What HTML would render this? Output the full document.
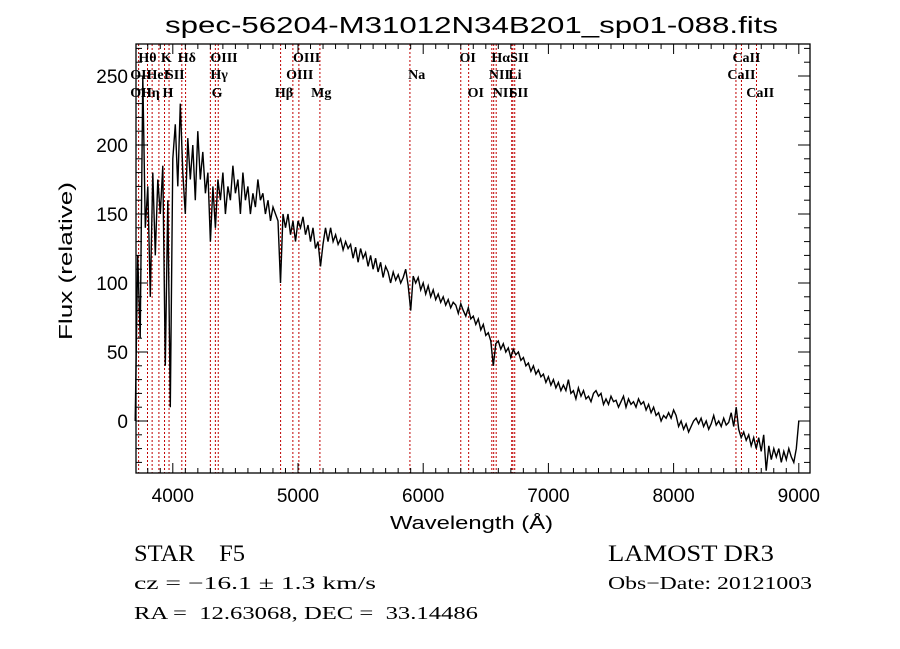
<!DOCTYPE html>
<html><head><meta charset="utf-8"><style>
html,body{margin:0;padding:0;background:#fff;}
svg{display:block;font-family:"Liberation Sans",sans-serif;}
</style></head><body>
<svg id="chart" width="900" height="649" viewBox="0 0 900 649" xmlns="http://www.w3.org/2000/svg">
<rect width="900" height="649" fill="#fff"/>
<text x="165" y="33" font-size="23" textLength="613" lengthAdjust="spacingAndGlyphs">spec-56204-M31012N34B201_sp01-088.fits</text>
<g id="lines"></g>
<g id="spec"></g>
<g id="axes"></g>
<g id="labels" font-family="Liberation Serif,serif" font-size="14" font-weight="bold"></g>
<text x="390" y="529" font-size="18" textLength="163" lengthAdjust="spacingAndGlyphs">Wavelength (Å)</text>
<text transform="translate(72,340) rotate(-90)" font-size="18" textLength="158" lengthAdjust="spacingAndGlyphs">Flux (relative)</text>
<text x="134" y="561" font-size="23" font-family="Liberation Serif,serif" xml:space="preserve" textLength="111" lengthAdjust="spacingAndGlyphs">STAR    F5</text>
<text x="608" y="561" font-size="23" font-family="Liberation Serif,serif" textLength="166" lengthAdjust="spacingAndGlyphs">LAMOST DR3</text>
<text x="134" y="589" font-size="18" font-family="Liberation Serif,serif" textLength="242" lengthAdjust="spacingAndGlyphs">cz = −16.1 ± 1.3 km/s</text>
<text x="608" y="589" font-size="18" font-family="Liberation Serif,serif" textLength="204" lengthAdjust="spacingAndGlyphs">Obs−Date: 20121003</text>
<text x="134" y="619" font-size="18" font-family="Liberation Serif,serif" xml:space="preserve" textLength="344" lengthAdjust="spacingAndGlyphs">RA =  12.63068, DEC =  33.14486</text>
</svg>
<script>
const wlStart = 3700;
const wlStep = 20;
const flux = [0,120,60,250,140,170,90,180,120,175,150,185,40,160,10,190,215,170,230,180,
150,205,175,200,160,210,175,195,165,180,130,170,140,175,160,180,150,170,160,185,
165,175,150,180,160,170,150,165,155,175,160,165,150,160,145,155,150,145,100,150,
140,150,135,145,130,145,140,148,135,142,130,140,125,130,112,128,140,130,140,130,
135,128,132,124,130,125,128,118,126,115,125,118,122,112,120,110,118,108,115,104,
112,108,100,108,102,106,100,104,110,98,80,105,100,104,95,100,92,98,90,95,
88,92,86,90,84,88,82,86,84,78,85,80,76,82,74,76,70,74,66,70,
62,64,58,40,56,58,52,56,50,53,46,52,48,50,44,46,40,42,36,40,
34,37,32,34,28,32,26,30,24,28,22,26,22,30,20,22,16,24,18,22,
16,18,14,20,22,18,20,12,16,12,18,14,15,10,14,18,10,16,12,14,
10,16,12,14,8,12,6,10,4,6,0,4,2,6,2,8,4,-4,0,-6,
-2,-8,-4,0,2,-2,2,-4,0,-6,-2,4,-3,0,-4,2,-3,-1,6,-4,
10,-6,-12,-8,-14,-10,-18,-12,-20,-12,-22,-10,-36,-18,-28,-20,-26,-20,-30,-22,
-28,-20,-26,-30,-20,0];
const lineWl = [3727,3798,3835,3889,3934,3970,4072,4102,4300,4340,4363,4861,4959,5007,5175,5894,6300,6363,6548,6563,6583,6707,6716,6731,8498,8542,8662];
const labelText = ["Hθ","K","Hδ","OIII","OIII","OI","HαSII","CaII","OII","HeI","SII","Hγ","OIII","Na","NII","Li","CaII","OII","Hη","H","G","Hβ","Mg","OI","NII","SII","CaII"];
const labelWl = [3725,3905,4040,4300,4960,6290,6545,8470,3660,3790,3945,4300,4905,5880,6525,6680,8430,3660,3745,3918,4310,4815,5105,6355,6556,6690,8580];
const labelRow = [0,0,0,0,0,0,0,0,1,1,1,1,1,1,1,1,1,2,2,2,2,2,2,2,2,2,2];
const xTicks = [4000,5000,6000,7000,8000,9000];
const yTicks = [0,50,100,150,200,250];

const L=136,R=810,T=44,B=473;
const X = w => -328 + 0.1252*w;
const Y = f => 421 - 1.38*f;
const NS="http://www.w3.org/2000/svg";
function mk(tag, attrs, parent){const e=document.createElementNS(NS,tag);for(const k in attrs)e.setAttribute(k,attrs[k]);parent.appendChild(e);return e;}

const gl=document.getElementById('lines');
lineWl.forEach(w=>{
  const l=mk('line',{x1:X(w),x2:X(w),y1:T,y2:B,stroke:'#c00000','stroke-width':1,'stroke-dasharray':'2,2'},gl);
  
  
});

const gs=document.getElementById('spec');
const pts=flux.map((f,i)=>X(wlStart+i*wlStep).toFixed(1)+','+Y(f).toFixed(1)).join(' ');
const pl=mk('polyline',{points:pts,fill:'none',stroke:'#000','stroke-width':1.4,'stroke-linejoin':'miter'},gs);



const ga=document.getElementById('axes');
const box=mk('rect',{x:L,y:T,width:R-L,height:B-T,fill:'none',stroke:'#000','stroke-width':1.3},ga);


for(let w=3700;w<=9080;w+=100){
  const x=X(w); if(x<L||x>R) continue;
  const major = w%1000===0; const len = major?10:5;
  mk('line',{x1:x,x2:x,y1:B,y2:B-len,stroke:'#000','stroke-width':1},ga);
  mk('line',{x1:x,x2:x,y1:T,y2:T+len,stroke:'#000','stroke-width':1},ga);
}
xTicks.forEach(w=>{
  const t=mk('text',{x:X(w),y:B+29,'font-size':19,'text-anchor':'middle'},ga);
  t.textContent=w;
  
  
});
for(let f=-30;f<=270;f+=10){
  const y=Y(f); if(y<T||y>B) continue;
  const major=f%50===0; const len=major?12:6;
  mk('line',{x1:L,x2:L+len,y1:y,y2:y,stroke:'#000','stroke-width':1},ga);
  mk('line',{x1:R,x2:R-len,y1:y,y2:y,stroke:'#000','stroke-width':1},ga);
}
yTicks.forEach(f=>{
  const t=mk('text',{x:128,y:Y(f)+7,'font-size':19,'text-anchor':'end'},ga);
  t.textContent=f;
  
  
});

const glab=document.getElementById('labels');
const rowY=[62,79,97];
labelText.forEach((s,i)=>{
  const t=mk('text',{x:X(labelWl[i]),y:rowY[labelRow[i]]},glab);
  t.textContent=s;
  
  
});
</script>
</body></html>
